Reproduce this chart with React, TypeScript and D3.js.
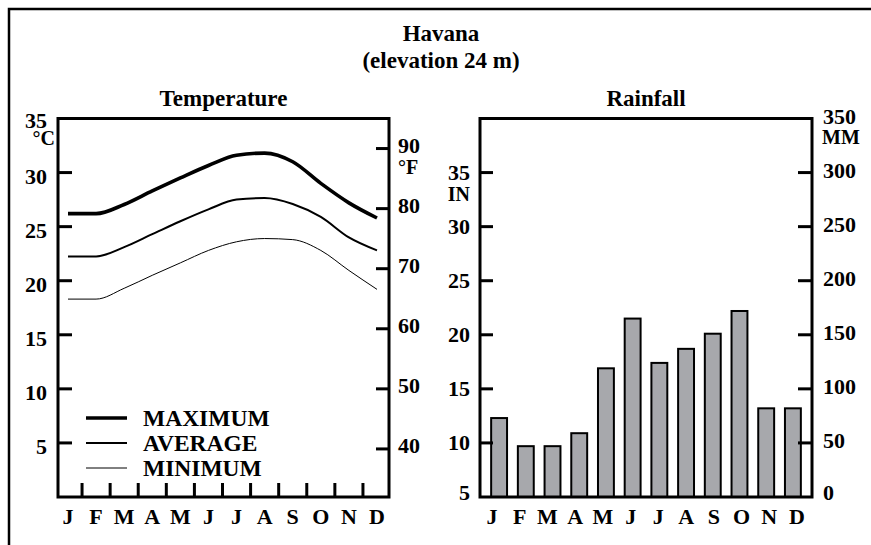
import * as d3 from "d3";

// month initials used on both charts
const months = ["J", "F", "M", "A", "M", "J", "J", "A", "S", "O", "N", "D"];
const monthKeys = months.map((m, i) => `${m}${i}`);

// temperatures in °C at each month
const maxTemp = [26.2, 26.2, 27.05, 28.3, 29.5, 30.65, 31.6, 31.8, 31.0, 29.0, 27.2, 25.8];
const avgTemp = [22.25, 22.25, 23.1, 24.3, 25.5, 26.6, 27.5, 27.65, 27.1, 25.9, 24.0, 22.8];
const minTemp = [18.3, 18.3, 19.3, 20.5, 21.65, 22.8, 23.6, 23.9, 23.8, 22.8, 20.95, 19.2];

// rainfall in mm
const rainMM = [73, 47, 47, 59, 119, 165, 124, 137, 151, 172, 82, 82];

const cTicks = [35, 30, 25, 20, 15, 10, 5];
const fTicks = [90, 80, 70, 60, 50, 40];
const inTicks = [35, 30, 25, 20, 15, 10, 5];
const mmTicks = [350, 300, 250, 200, 150, 100, 50, 0];

const series = [
  { name: "MAXIMUM", values: maxTemp, width: 3.6 },
  { name: "AVERAGE", values: avgTemp, width: 2 },
  { name: "MINIMUM", values: minTemp, width: 1 },
];

const font = "Liberation Serif, Times New Roman, Times, serif";

export default function App() {
  const top = 118.5;
  const bottom = 497;
  const tL = 58, tR = 389; // temperature frame
  const rL = 480, rR = 812; // rainfall frame

  const cScale = d3.scaleLinear().domain([0, 35]).range([bottom, top]);
  const fScale = d3
    .scaleLinear()
    .domain([32, 35 * 1.8 + 32])
    .range([bottom, top]);
  const xTemp = d3.scalePoint<string>().domain(monthKeys).range([68, 377]);

  const mmScale = d3.scaleLinear().domain([0, 350]).range([bottom, top]);
  const inScale = d3.scaleLinear().domain([5, 40]).range([bottom, top]);
  const xRain = d3
    .scaleBand<string>()
    .domain(monthKeys)
    .range([rL, rR])
    .paddingInner(0.33)
    .paddingOuter(0.38);
  const xRainLabel = d3.scalePoint<string>().domain(monthKeys).range([492, 797]);

  const line = d3
    .line<number>()
    .x((_, i) => xTemp(monthKeys[i]) as number)
    .y((d) => cScale(d))
    .curve(d3.curveMonotoneX);

  const step = xTemp.step();
  const tempTicksX = monthKeys.slice(1).map((k) => (xTemp(k) as number) - step / 2);

  const mk = (size: number) => ({
    style: { fontFamily: font, fontWeight: 700, fontSize: `${size}px` },
    fill: "#000",
  });
  const txt = mk(22);
  const big = mk(23);
  const unit = mk(20);
  const leg = mk(23.5);

  return (
    <svg
      width={871}
      height={545}
      style={{ position: "absolute", left: 0, top: 0, background: "#fff" }}
    >
      <rect x={9} y={9} width={900} height={600} fill="none" stroke="#000" strokeWidth={2.5} />

      <text x={441} y={41} textAnchor="middle" {...big}>Havana</text>
      <text x={441} y={68} textAnchor="middle" {...big}>(elevation 24 m)</text>
      <text x={(tL + tR) / 2} y={106} textAnchor="middle" {...big}>Temperature</text>
      <text x={(rL + rR) / 2} y={106} textAnchor="middle" {...big}>Rainfall</text>

      {/* temperature chart */}
      <g>
        {series.map((s) => (
          <path key={s.name} d={line(s.values) || ""} fill="none" stroke="#000" strokeWidth={s.width} />
        ))}
        <rect x={tL} y={top} width={tR - tL} height={bottom - top} fill="none" stroke="#000" strokeWidth={3} />
        {cTicks.map((t) => (
          <g key={`c${t}`}>
            {t < 35 && <line x1={tL} x2={tL + 14} y1={cScale(t)} y2={cScale(t)} stroke="#000" strokeWidth={3} />}
            <text x={47} y={cScale(t) + (t === 35 ? 9 : 11)} textAnchor="end" {...txt}>{t}</text>
          </g>
        ))}
        <text x={55} y={145} textAnchor="end" {...unit}>°C</text>
        {fTicks.map((t) => (
          <g key={`f${t}`}>
            <line x1={tR - 13} x2={tR} y1={fScale(t)} y2={fScale(t)} stroke="#000" strokeWidth={3} />
            <text x={398} y={fScale(t) + 4} {...txt}>{t}</text>
          </g>
        ))}
        <text x={398} y={174} {...unit}>°F</text>
        {tempTicksX.map((x, i) => (
          <line key={`tx${i}`} x1={x} x2={x} y1={bottom} y2={bottom - 14} stroke="#000" strokeWidth={3} />
        ))}
        {monthKeys.map((k, i) => (
          <text key={`tm${k}`} x={xTemp(k)} y={524} textAnchor="middle" {...txt}>{months[i]}</text>
        ))}
        {series.map((s, i) => (
          <g key={`lg${s.name}`}>
            <line x1={86} x2={127} y1={418 + i * 25} y2={418 + i * 25} stroke="#000" strokeWidth={s.width} />
            <text x={143} y={426 + i * 25} {...leg}>{s.name}</text>
          </g>
        ))}
      </g>

      {/* rainfall chart */}
      <g>
        {rainMM.map((v, i) => (
          <rect
            key={`bar${i}`}
            x={(xRain(monthKeys[i]) as number) + 1}
            y={mmScale(v)}
            width={xRain.bandwidth() - 2}
            height={bottom - mmScale(v)}
            fill="#a7a8ac"
            stroke="#000"
            strokeWidth={2}
          />
        ))}
        <rect x={rL} y={top} width={rR - rL} height={bottom - top} fill="none" stroke="#000" strokeWidth={3} />
        {inTicks.map((t) => (
          <g key={`in${t}`}>
            {t > 5 && <line x1={rL} x2={rL + 13} y1={inScale(t)} y2={inScale(t)} stroke="#000" strokeWidth={3} />}
            <text x={470} y={inScale(t) + (t === 5 ? 3 : 7)} textAnchor="end" {...txt}>{t}</text>
          </g>
        ))}
        <text x={470} y={201} textAnchor="end" {...unit}>IN</text>
        {mmTicks.map((t) => (
          <g key={`mm${t}`}>
            {t > 0 && t < 350 && (
              <line x1={rR - 14} x2={rR} y1={mmScale(t)} y2={mmScale(t)} stroke="#000" strokeWidth={3} />
            )}
            <text x={823} y={mmScale(t) + (t === 0 ? 3 : t === 350 ? 5 : 5)} {...txt}>{t}</text>
          </g>
        ))}
        <text x={822} y={144} {...unit}>MM</text>
        {monthKeys.map((k, i) => (
          <text key={`rm${k}`} x={xRainLabel(k)} y={524} textAnchor="middle" {...txt}>{months[i]}</text>
        ))}
      </g>
    </svg>
  );
}
